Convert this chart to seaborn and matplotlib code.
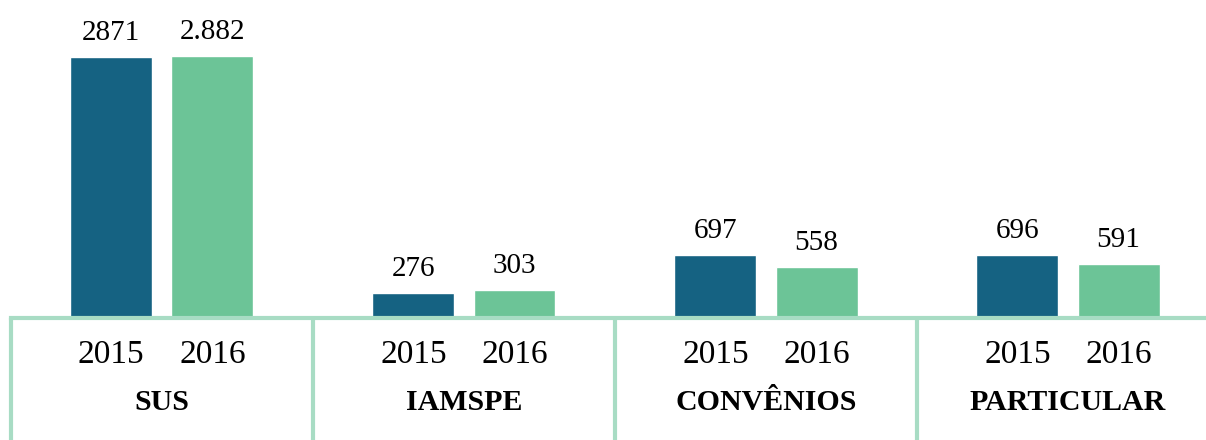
import pandas as pd
import matplotlib.pyplot as plt
import matplotlib.transforms as mtransforms
import seaborn as sns

# Data
categories = ['SUS', 'IAMSPE', 'CONVÊNIOS', 'PARTICULAR']
years = ['2015', '2016']
values_2015 = [2871, 276, 697, 696]
values_2016 = [2882, 303, 558, 591]
labels_2015 = ['2871', '276', '697', '696']
labels_2016 = ['2.882', '303', '558', '591']

df = pd.DataFrame({
    'categoria': categories * 2,
    'ano': [years[0]] * 4 + [years[1]] * 4,
    'valor': values_2015 + values_2016,
})

sns.set_style('white')
plt.rcParams['font.family'] = ['Liberation Serif', 'DejaVu Serif']
plt.rcParams['text.color'] = 'black'

DARK = '#156282'
LIGHT = '#6CC497'
LINE = '#A8DCC4'

fig = plt.figure(figsize=(12.06, 4.4), dpi=100)
ax = fig.add_axes([0, 122 / 440, 1, 318 / 440])

sns.barplot(data=df, x='categoria', y='valor', hue='ano', order=categories,
            hue_order=years, palette=[DARK, LIGHT], width=0.67, gap=0.19,
            saturation=1, legend=False, ax=ax)

ax.set_xlabel('')
ax.set_ylabel('')
ax.set_yticks([])

for side in ['top', 'left', 'right']:
    ax.spines[side].set_visible(False)
ax.spines['bottom'].set_color(LINE)
ax.spines['bottom'].set_linewidth(3)
ax.spines['bottom'].set_bounds(-0.5, 3.5)

# group separators hanging below the axis
ax.set_xticks([i - 0.5 for i in range(len(categories) + 1)])
ax.set_xticklabels([])
ax.tick_params(axis='x', which='major', bottom=True, direction='out',
               length=88, width=3, color=LINE)

# limits after the ticks, so the extra tick does not widen the view
ax.set_xlim(-0.536, 3.457)
ax.set_ylim(0, 3498)

# value labels on top of the bars
for container, labels in zip(ax.containers, [labels_2015, labels_2016]):
    ax.bar_label(container, labels=labels, padding=8, fontsize=21,
                 color='black')

# year labels under each bar, category names under each group
trans = mtransforms.blended_transform_factory(ax.transData, ax.transAxes)
for container, year in zip(ax.containers, years):
    for bar in container:
        xc = bar.get_x() + bar.get_width() / 2
        ax.text(xc, -45 / 318, year, transform=trans, ha='center',
                va='baseline', fontsize=24, color='black')
for i, cat in enumerate(categories):
    ax.text(i, -92 / 318, cat, transform=trans, ha='center', va='baseline',
            fontsize=21.5, fontweight='bold', color='black')

fig.savefig('out.png', dpi=100)
